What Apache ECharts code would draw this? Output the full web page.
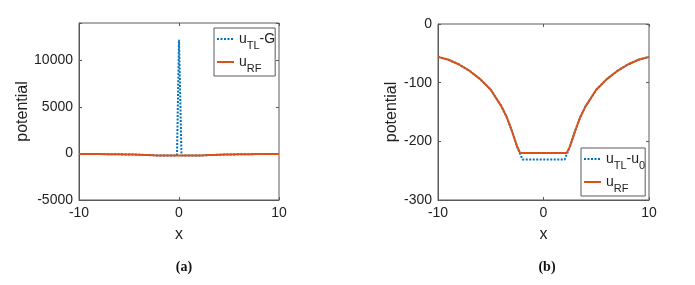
<!DOCTYPE html>
<html><head><meta charset="utf-8">
<script src="https://cdn.jsdelivr.net/npm/echarts@6/dist/echarts.min.js"></script>
<style>html,body{margin:0;padding:0;background:#fff}#c{width:695px;height:285px}</style>
</head><body><div id="c"></div>
<script>
// Shared u_RF curve (both panels)
var xRF = [-10,-9,-8,-7,-6,-5,-4.5,-4,-3.5,-3,-2.5,-2.2,0,2.2,2.5,3,3.5,4,4.5,5,6,7,8,9,10];
var uRF = [-56,-61,-69,-80,-94,-112,-126,-140,-158,-182,-209,-220,-220,-220,-209,-182,-158,-140,-126,-112,-94,-80,-69,-61,-56];
// Panel (b): u_TL - u_0
var xTL0 = [-10,-9,-8,-7,-6,-5,-4.5,-4,-3.5,-3,-2.5,-2.0,0,2.0,2.5,3,3.5,4,4.5,5,6,7,8,9,10];
var uTL0 = [-56,-61,-69,-80,-94,-112,-126,-140,-158,-182,-209,-231,-231,-231,-209,-182,-158,-140,-126,-112,-94,-80,-69,-61,-56];
// Panel (a): u_TL - G (spike at 0)
var xTLG = [-10,-8,-6,-4,-3,-2.5,-2.0,-0.2,0,0.25,2.0,2.5,3,4,6,8,10];
var uTLG = [-56,-69,-94,-140,-182,-209,-231,-231,12200,-231,-231,-209,-182,-140,-94,-69,-56];
// Axis ticks
var xTicks = {min:-10, max:10, interval:10};
var yTicksA = {min:-5000, max:14000, interval:5000};
var yTicksB = {min:-300, max:0, interval:100};

function pairs(xs, ys){ return xs.map(function(x,i){return [x, ys[i]];}); }

var BLUE = '#0072BD', RED = '#D95319', AX = '#5a5a5a';
var FONT = 'Liberation Sans';
var grids = [
  {left:79, top:23, width:200, height:177, show:true, borderColor:AX, borderWidth:1},
  {left:438, top:24, width:211, height:176, show:true, borderColor:AX, borderWidth:1}
];
function xAx(g){
  return {type:'value', gridIndex:g, min:xTicks.min, max:xTicks.max, interval:xTicks.interval,
    name:'x', nameLocation:'middle', nameGap:27, nameTextStyle:{fontFamily:FONT, fontSize:16, color:'#222'},
    axisLine:{onZero:false, lineStyle:{color:AX}}, axisTick:{inside:true, length:3, lineStyle:{color:AX}},
    axisLabel:{fontFamily:FONT, fontSize:14, color:'#222', margin:6}, splitLine:{show:false}};
}
function xTop(g){
  return {type:'value', gridIndex:g, position:'top', min:xTicks.min, max:xTicks.max, interval:xTicks.interval,
    axisLine:{show:false, onZero:false}, axisTick:{show:true, inside:true, length:3, lineStyle:{color:AX}}, axisLabel:{show:false}, splitLine:{show:false}};
}
function yAx(g, t, gap){
  return {type:'value', gridIndex:g, min:t.min, max:t.max, interval:t.interval,
    name:'potential', nameLocation:'middle', nameGap:gap, nameTextStyle:{fontFamily:FONT, fontSize:16, color:'#222'},
    axisLine:{show:true, onZero:false, lineStyle:{color:AX}}, axisTick:{inside:true, length:3, lineStyle:{color:AX}},
    axisLabel:{fontFamily:FONT, fontSize:14, color:'#222', margin:6,
      formatter:function(v){ return (v - t.min) % t.interval === 0 ? String(v) : ''; }},
    splitLine:{show:false}};
}
function yRight(g, t){
  return {type:'value', gridIndex:g, position:'right', min:t.min, max:t.max, interval:t.interval,
    axisLine:{show:false, onZero:false}, axisTick:{show:true, inside:true, length:3, lineStyle:{color:AX}}, axisLabel:{show:false}, splitLine:{show:false}};
}
var rich = {
  a:{fontFamily:FONT, fontSize:14, color:'#222'},
  s:{fontFamily:FONT, fontSize:11, color:'#222', padding:[13,0,0,0]}
};
var names = {
  aTL:'{a|u}{s|TL}{a|-G}', aRF:'{a|u}{s|RF}',
  bTL:'{a|u}{s|TL}{a|-u}{s|0}', bRF:'{a|u}{s|RF}'
};
function legend(data, left, top){
  return {data:data, orient:'vertical', left:left, top:top, itemWidth:17, itemHeight:10, itemGap:4,
    padding:[4,0,2,2], borderColor:AX, borderWidth:1, backgroundColor:'#fff', selectedMode:false,
    itemStyle:{opacity:0, borderWidth:0},
    formatter:function(n){return names[n];}, textStyle:{rich:rich}};
}
var option = {
  backgroundColor:'#fff',
  animation:false,
  title:[
    {text:'(a)', left:179, top:255, textAlign:'center', textStyle:{fontFamily:'Liberation Serif', fontSize:14, fontWeight:'bold', color:'#111'}},
    {text:'(b)', left:542, top:255, textAlign:'center', textStyle:{fontFamily:'Liberation Serif', fontSize:14, fontWeight:'bold', color:'#111'}}
  ],
  grid:grids,
  xAxis:[xAx(0), xAx(1), xTop(0), xTop(1)],
  yAxis:[yAx(0, yTicksA, 44), yAx(1, yTicksB, 32), yRight(0, yTicksA), yRight(1, yTicksB)],
  legend:[legend(['aTL','aRF'], 214, 28), legend(['bTL','bRF'], 581, 148)],
  series:[
    {name:'aTL', type:'line', xAxisIndex:0, yAxisIndex:0, data:pairs(xTLG,uTLG), symbol:'none', lineStyle:{color:BLUE, width:2, type:[2,1.5]}, itemStyle:{color:BLUE}},
    {name:'aRF', type:'line', xAxisIndex:0, yAxisIndex:0, data:pairs(xRF,uRF), symbol:'none', lineStyle:{color:RED, width:2}, itemStyle:{color:RED}},
    {name:'bTL', type:'line', xAxisIndex:1, yAxisIndex:1, data:pairs(xTL0,uTL0), symbol:'none', lineStyle:{color:BLUE, width:2, type:[2,1.5]}, itemStyle:{color:BLUE}},
    {name:'bRF', type:'line', xAxisIndex:1, yAxisIndex:1, data:pairs(xRF,uRF), symbol:'none', lineStyle:{color:RED, width:2}, itemStyle:{color:RED}}
  ]
};
echarts.init(document.getElementById('c'), null, {renderer:'canvas'}).setOption(option);
</script></body></html>
